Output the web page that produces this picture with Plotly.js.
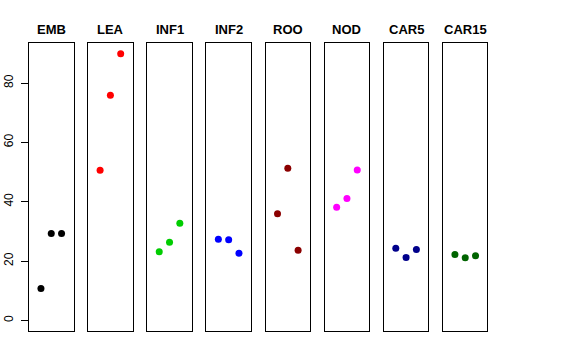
<!DOCTYPE html>
<html>
<head>
<meta charset="utf-8">
<script src="https://cdn.plot.ly/plotly-3.0.1.min.js"></script>
<style>html,body{margin:0;padding:0;background:#fff;}#chart{width:576px;height:360px;}</style>
</head>
<body>
<div id="chart"></div>
<script>
// Data
const categories = ["EMB", "LEA", "INF1", "INF2", "ROO", "NOD", "CAR5", "CAR15"];
const replicate = [1, 2, 3];
const EMB   = [10.7, 29.3, 29.3];
const LEA   = [50.6, 75.9, 89.9];
const INF1  = [23.1, 26.3, 32.7];
const INF2  = [27.3, 27.2, 22.6];
const ROO   = [35.9, 51.3, 23.6];
const NOD   = [38.1, 41.1, 50.7];
const CAR5  = [24.3, 21.2, 23.9];
const CAR15 = [22.2, 21.1, 21.8];
const seriesValues = [EMB, LEA, INF1, INF2, ROO, NOD, CAR5, CAR15];
const colors = ["#000000", "#FF0000", "#00CD00", "#0000FF", "#8B0000", "#FF00FF", "#00008B", "#006400"];
const yTicks = [0, 20, 40, 60, 80];

const W = 576, H = 360;
const x0 = 29, step = 59.14, pw = 44.5;
const yTop = 43, yBot = 331;
const font = "Liberation Sans, Arial, Helvetica, sans-serif";

const traces = [];
const layout = {
  width: W, height: H,
  margin: {l: 0, r: 0, t: 0, b: 0},
  paper_bgcolor: "#fff", plot_bgcolor: "#fff",
  showlegend: false,
  annotations: []
};

categories.forEach((cat, i) => {
  const n = i === 0 ? "" : String(i + 1);
  traces.push({
    type: "scatter", mode: "markers",
    x: replicate, y: seriesValues[i],
    xaxis: "x" + n, yaxis: "y" + n,
    marker: {color: colors[i], size: 7},
    hoverinfo: "skip"
  });
  const left = x0 + i * step;
  layout["xaxis" + n] = {
    domain: [left / W, (left + pw) / W],
    range: [-0.16, 4.16],
    showgrid: false, zeroline: false, showticklabels: false, ticks: "",
    showline: true, mirror: true, linecolor: "#000", linewidth: 1,
    anchor: "y" + n, fixedrange: true
  };
  const ya = {
    domain: [1 - yBot / H, 1 - yTop / H],
    range: [-3.6, 93.5],
    showgrid: false, zeroline: false,
    showline: true, mirror: true, linecolor: "#000", linewidth: 1,
    anchor: "x" + n, fixedrange: true
  };
  if (i === 0) {
    Object.assign(ya, {
      tickvals: yTicks, ticktext: yTicks.map(String),
      ticks: "outside", ticklen: 7, tickcolor: "#000", tickwidth: 1,
      ticklabelstandoff: 3,
      tickangle: -90, tickfont: {family: font, size: 12, color: "#000"}
    });
  } else {
    Object.assign(ya, {showticklabels: false, ticks: ""});
  }
  layout["yaxis" + n] = ya;
  layout.annotations.push({
    text: "<b>" + cat + "</b>",
    xref: "paper", yref: "paper",
    x: (left + pw / 2) / W, y: 1 - 29 / H,
    xanchor: "center", yanchor: "middle",
    showarrow: false,
    font: {family: font, size: 13, color: "#000"}
  });
});

Plotly.newPlot("chart", traces, layout, {staticPlot: true, displayModeBar: false});
</script>
</body>
</html>
